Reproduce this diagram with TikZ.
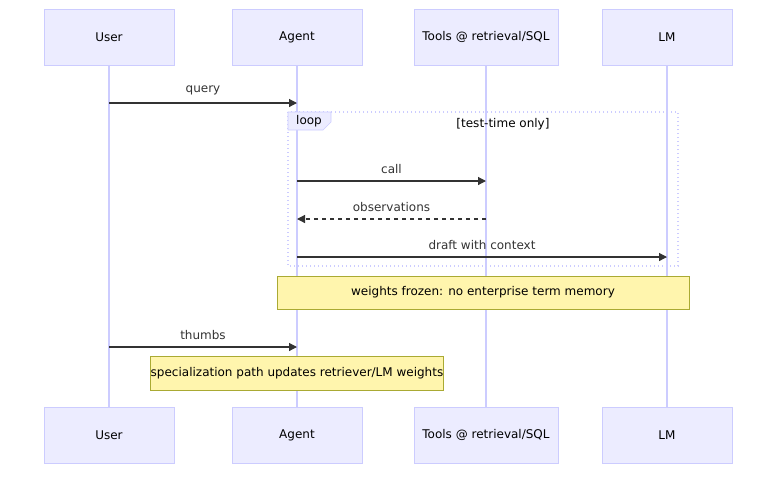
\documentclass[tikz,border=0pt]{standalone}
\usepackage{fontspec}
\setmainfont{DejaVu Sans}
\usetikzlibrary{arrows.meta}
\definecolor{actfill}{HTML}{ECECFF}
\definecolor{actline}{HTML}{CCCCFF}
\definecolor{notefill}{HTML}{FFF5AD}
\definecolor{noteline}{HTML}{AAAA33}
\definecolor{msg}{HTML}{333333}
\tikzset{
  actor/.style={draw=actline, fill=actfill, minimum width=97.5pt, minimum height=42pt, font=\fontsize{9}{11}\selectfont},
  note/.style={draw=noteline, fill=notefill, font=\fontsize{9}{11}\selectfont, inner sep=0pt},
  msgline/.style={msg, line width=0.9pt, -{Triangle[length=6pt,width=6pt]}},
  msglabel/.style={font=\fontsize{9}{11}\selectfont, text=msg}
}
\begin{document}
\begin{tikzpicture}[x=0.75pt, y=-0.75pt]
      \useasboundingbox (0,0) rectangle (784,479);
      % lifelines
      \foreach \n/\x in {user/109, agent/297, tools/486, lm/667}
        \draw[actline, line width=1pt] (\x,65) -- (\x,407);
      % top and bottom actors
      \node[actor] (usertop) at (109,37) {User};
      \node[actor] (agenttop) at (297,37) {Agent};
      \node[actor, minimum width=108pt] (toolstop) at (486,37) {Tools @ retrieval/SQL};
      \node[actor] (lmtop) at (667,37) {LM};
      \node[actor] (userbot) at (109,435) {User};
      \node[actor] (agentbot) at (297,435) {Agent};
      \node[actor, minimum width=108pt] (toolsbot) at (486,435) {Tools @ retrieval/SQL};
      \node[actor] (lmbot) at (667,435) {LM};
      % loop frame
      \draw[actline, line width=1pt, dotted] (288,112) rectangle (678,266);
      \draw[actline, fill=actfill] (288,112) -- (331,112) -- (331,122) -- (323,130) -- (288,130) -- cycle;
      \node[msglabel, text=black] (looptag) at (309,121) {loop};
      \node[msglabel, text=black] (loopcond) at (503,124) {[test-time only]};
      % message ends
      \foreach \y/\m in {103/a, 181/b, 219/c, 257/d, 347/e} {
        \coordinate (user\m) at (109,\y);
        \coordinate (agent\m) at (297,\y);
        \coordinate (tools\m) at (486,\y);
        \coordinate (lm\m) at (667,\y);
      }
      \draw[msgline] (usera) -- node[msglabel, above=2pt] {query} (agenta);
      \draw[msgline] (agentb) -- node[msglabel, above=2pt] {call} (toolsb);
      \draw[msgline, dashed] (toolsc) -- node[msglabel, above=2pt] {observations} (agentc);
      \draw[msgline] (agentd) -- node[msglabel, above=2pt] {draft with context} (lmd);
      \draw[msgline] (usere) -- node[msglabel, above=2pt] {thumbs} (agente);
      % notes
      \node[note, minimum width=309pt, minimum height=24.75pt] (frozen) at (483,292.5) {weights frozen: no enterprise term memory};
      \node[note, minimum width=217.5pt, minimum height=25.5pt] (special) at (297,373) {specialization path updates retriever/LM weights};
\end{tikzpicture}
\end{document}
